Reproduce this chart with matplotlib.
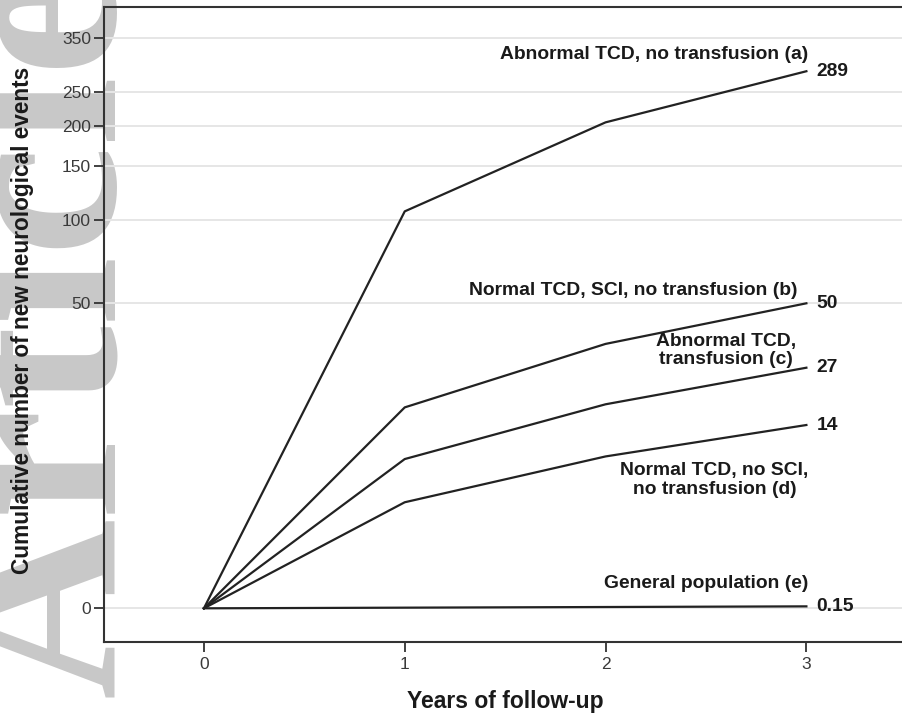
import numpy as np
import matplotlib
matplotlib.use("Agg")
import matplotlib.pyplot as plt

# data
years = [0, 1, 2, 3]
abnormal_no_tx = [0, 108, 205, 289]
normal_sci_no_tx = [0, 18, 35.5, 50]
abnormal_tx = [0, 11.4, 18.7, 27]
normal_no_sci = [0, 8.1, 11.6, 14]
general_pop = [0, 0.05, 0.10, 0.15]

series = [abnormal_no_tx, normal_sci_no_tx, abnormal_tx, normal_no_sci, general_pop]
series_labels = [
    "Abnormal TCD, no transfusion (a)",
    "Normal TCD, SCI, no transfusion (b)",
    "Abnormal TCD,\ntransfusion (c)",
    "Normal TCD, no SCI,\nno transfusion (d)",
    "General population (e)",
]

y_ticks = [0, 50, 100, 150, 200, 250, 350]
x_ticks = [0, 1, 2, 3]

# the original y axis is compressed (non-linear); calibrate it piecewise
scale_vals = [-10, 0, 14, 27, 50, 100, 150, 200, 250, 350, 500]
scale_pos = [-130.9, 0, 183.3, 240.6, 305, 388.3, 442.3, 482.6, 516, 570, 651]


def fwd(v):
    return np.interp(v, scale_vals, scale_pos)


def inv(p):
    return np.interp(p, scale_pos, scale_vals)


W, H = 902, 717
fig = plt.figure(figsize=(W / 100, H / 100), dpi=100)
fig.patch.set_facecolor("white")

# faint watermark behind the chart
fig.text(113 / W, (H - 697) / H, "Article", rotation=90, rotation_mode="anchor",
         ha="left", va="baseline", fontsize=180, family="Liberation Serif",
         fontweight="bold", color="#c8c8c8", zorder=-1)

ax = fig.add_axes([103.5 / W, 75.3 / H, (906.8 - 103.5) / W, 635 / H])
ax.patch.set_alpha(0)
ax.set_yscale("function", functions=(fwd, inv))
ax.set_xlim(-0.5, 3.5)
ax.set_ylim(-2.55, 408.5)

ax.set_yticks(y_ticks)
ax.set_xticks(x_ticks)
ax.yaxis.grid(True, color="#e6e6e6", linewidth=1.4)
ax.set_axisbelow(True)
ax.minorticks_off()

for side in ["left", "bottom", "top"]:
    ax.spines[side].set_color("#333333")
    ax.spines[side].set_linewidth(1.5)
ax.spines["right"].set_visible(False)

ax.tick_params(axis="both", direction="out", length=7, width=1.3, color="#333333",
               labelsize=12.5, labelcolor="#3a3a3a")
ax.tick_params(axis="y", pad=2)
ax.tick_params(axis="x", pad=4)
for lab in ax.get_xticklabels() + ax.get_yticklabels():
    lab.set_family("Liberation Sans")

for vals in series:
    ax.plot(years, vals, color="#222222", linewidth=1.6, solid_joinstyle="round")

# group labels, offset in pixels from the line end
label_offsets = [(2, 17), (-9, 13), (-80, 17), (-92, -55), (2, 23)]
label_align = ["right", "right", "center", "center", "right"]
for vals, text, off, ha in zip(series, series_labels, label_offsets, label_align):
    ax.annotate(text, xy=(years[-1], vals[-1]), xytext=off, textcoords="offset pixels",
                ha=ha, va="center", multialignment="center", fontsize=13.9,
                fontweight="bold", family="Liberation Sans", color="#1a1a1a",
                linespacing=1.1)
    ax.annotate(f"{vals[-1]:g}", xy=(years[-1], vals[-1]), xytext=(10, 0),
                textcoords="offset pixels", ha="left", va="center", fontsize=13.9,
                fontweight="bold", family="Liberation Sans", color="#1a1a1a")

fig.text(505 / W, (H - 701.7) / H, "Years of follow-up", ha="center", va="center",
         fontsize=16.5, fontweight="bold", family="Liberation Sans", color="#1a1a1a")
fig.text(23 / W, (H - 320) / H, "Cumulative number of new neurological events",
         rotation=90, ha="center", va="center", fontsize=16.3, fontweight="bold",
         family="Liberation Sans", color="#1a1a1a")

fig.savefig("out.png", dpi=100)
